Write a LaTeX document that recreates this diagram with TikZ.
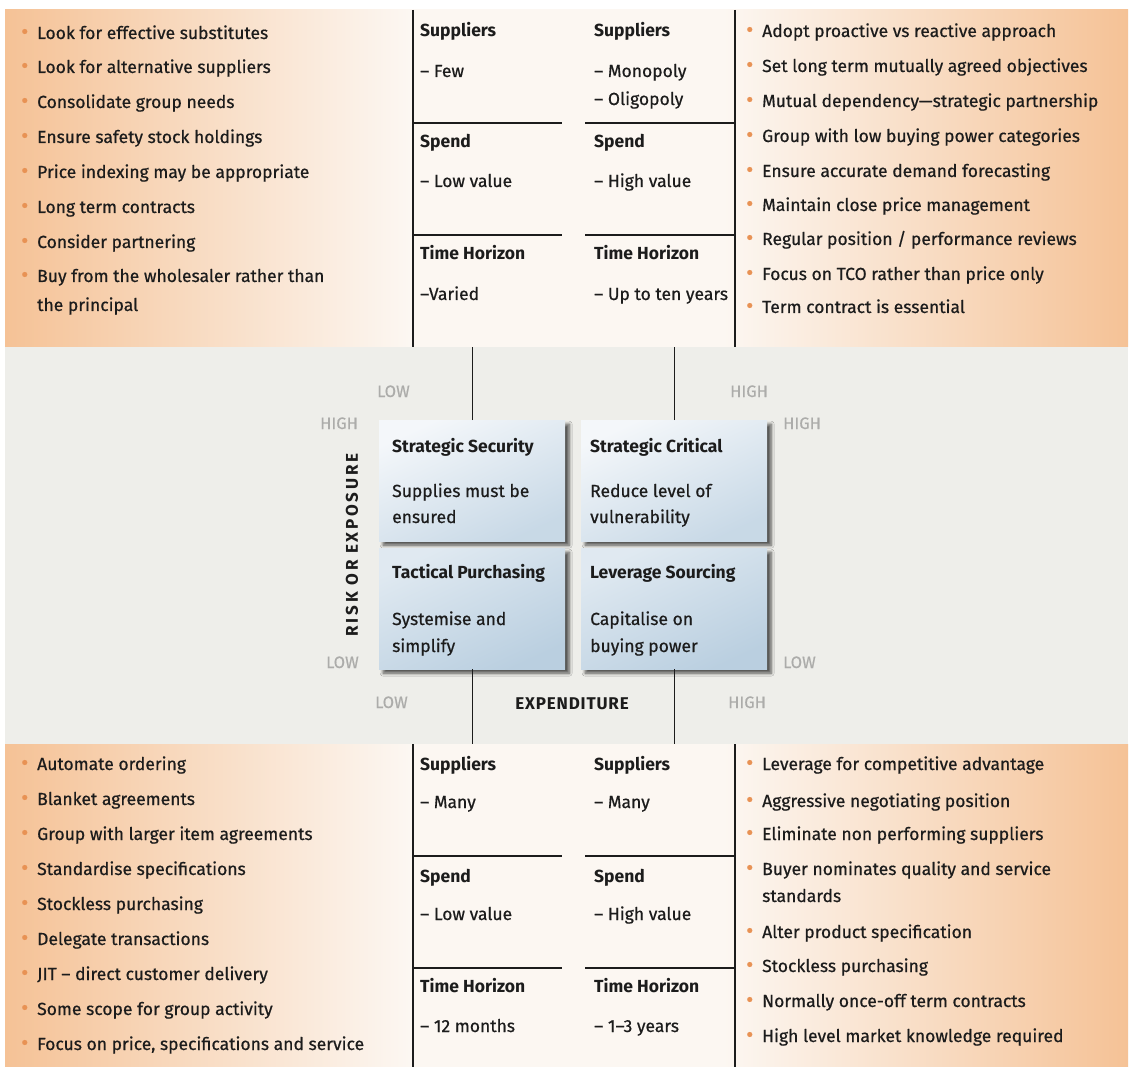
\documentclass[tikz,border=0pt]{standalone}
\usepackage{fontspec}
\setmainfont{Fira Sans}[UprightFeatures={FakeBold=0.6}]
\usetikzlibrary{shadows.blur}

\definecolor{peach}{RGB}{245,194,150}
\definecolor{cream}{RGB}{252,247,242}
\definecolor{bandgrey}{RGB}{238,238,234}
\definecolor{dotorange}{RGB}{232,146,84}
\definecolor{axisgrey}{RGB}{172,172,170}
\definecolor{inkdark}{RGB}{28,28,28}
\definecolor{quadlight}{RGB}{244,247,250}
\definecolor{quadblue}{RGB}{186,207,224}

\pgfdeclarehorizontalshading{bandshade}{100bp}{color(0bp)=(peach); color(25bp)=(peach); color(43bp)=(cream); color(57bp)=(cream); color(75bp)=(peach); color(100bp)=(peach)}

\newcommand{\bul}{\makebox[16pt][l]{\textcolor{dotorange}{\fontsize{22}{22}\selectfont•}}}

\begin{document}
\begin{tikzpicture}[x=1pt,y=-1pt,
	every node/.style={inner sep=0pt,text=inkdark},
	item/.style={anchor=base west,font=\fontsize{17.5}{21}\selectfont},
	head/.style={anchor=base west,font=\fontsize{17.5}{21}\selectfont\bfseries},
	axislabel/.style={anchor=base west,text=axisgrey,font=\fontsize{16.5}{19}\selectfont},
	axistitle/.style={font=\fontsize{17}{20}\selectfont\bfseries},
	quad/.style={anchor=north west,minimum width=186pt,minimum height=121pt,
		blur shadow={shadow xshift=4pt,shadow yshift=-4pt,shadow blur radius=3pt,shadow blur steps=6,shadow opacity=65}},
	quadtop/.style={quad,top color=quadlight,bottom color=quadblue!80,shading angle=25},
	quadbot/.style={quad,top color=quadblue!45,bottom color=quadblue,shading angle=25},
	rule/.style={line width=1.2pt,draw=inkdark}]
	
	\useasboundingbox (0,0) rectangle (1130,1067);
	\fill[white] (0,0) rectangle (1130,1067);
	
	% bands
	\shade[shading=bandshade] (5,10) rectangle (1128,347);
	\fill[bandgrey] (5,347) rectangle (1128,744);
	\shade[shading=bandshade] (5,744) rectangle (1128,1067);
	
	% table rules
	\draw[rule] (413,10) -- (413,347);
	\draw[rule] (735,10) -- (735,347);
	\draw[rule] (413,123) -- (562,123);
	\draw[rule] (413,235) -- (562,235);
	\draw[rule] (585,123) -- (735,123);
	\draw[rule] (585,235) -- (735,235);
	\draw[rule] (413,744) -- (413,1067);
	\draw[rule] (735,744) -- (735,1067);
	\draw[rule] (413,856) -- (562,856);
	\draw[rule] (413,968) -- (562,968);
	\draw[rule] (585,856) -- (735,856);
	\draw[rule] (585,968) -- (735,968);
	
	% top left
	\node[item] (ta1) at (21,39)  {\bul Look for effective substitutes};
	\node[item] (ta2) at (21,73)  {\bul Look for alternative suppliers};
	\node[item] (ta3) at (21,108) {\bul Consolidate group needs};
	\node[item] (ta4) at (21,143) {\bul Ensure safety stock holdings};
	\node[item] (ta5) at (21,178) {\bul Price indexing may be appropriate};
	\node[item] (ta6) at (21,213) {\bul Long term contracts};
	\node[item] (ta7) at (21,248) {\bul Consider partnering};
	\node[item] (ta8) at (21,282) {\bul Buy from the wholesaler rather than};
	\node[item] (ta9) at (37,311) {the principal};
	
	\node[head] (sa1) at (420,37)  {Suppliers};
	\node[item] (sa2) at (420,77)  {– Few};
	\node[head] (sa3) at (420,148) {Spend};
	\node[item] (sa4) at (420,187) {– Low value};
	\node[head] (sa5) at (420,260) {Time Horizon};
	\node[item] (sa6) at (420,300) {–Varied};
	
	\node[head] (sb1) at (594,37)  {Suppliers};
	\node[item] (sb2) at (594,77)  {– Monopoly};
	\node[item] (sb3) at (594,105) {– Oligopoly};
	\node[head] (sb4) at (594,148) {Spend};
	\node[item] (sb5) at (594,187) {– High value};
	\node[head] (sb6) at (594,260) {Time Horizon};
	\node[item] (sb7) at (594,300) {– Up to ten years};
	
	% top right
	\node[item] (tb1) at (746,37)  {\bul Adopt proactive vs reactive approach};
	\node[item] (tb2) at (746,72)  {\bul Set long term mutually agreed objectives};
	\node[item] (tb3) at (746,107) {\bul Mutual dependency—strategic partnership};
	\node[item] (tb4) at (746,142) {\bul Group with low buying power categories};
	\node[item] (tb5) at (746,177) {\bul Ensure accurate demand forecasting};
	\node[item] (tb6) at (746,211) {\bul Maintain close price management};
	\node[item] (tb7) at (746,245) {\bul Regular position / performance reviews};
	\node[item] (tb8) at (746,280) {\bul Focus on TCO rather than price only};
	\node[item] (tb9) at (746,313) {\bul Term contract is essential};
	
	% matrix
	\node[quadtop] (secure)   at (379,420) {};
	\node[quadtop] (critical) at (581,420) {};
	\node[quadbot] (tactical) at (379,548) {};
	\node[quadbot] (leverage) at (581,548) {};
	
	\node[head] (q1) at (392,452) {Strategic Security};
	\node[item] (q1a) at (392,497) {Supplies must be};
	\node[item] (q1b) at (392,523) {ensured};
	\node[head] (q2) at (590,452) {Strategic Critical};
	\node[item] (q2a) at (590,497) {Reduce level of};
	\node[item] (q2b) at (590,523) {vulnerability};
	\node[head] (q3) at (392,578) {Tactical Purchasing};
	\node[item] (q3a) at (392,625) {Systemise and};
	\node[item] (q3b) at (392,652) {simplify};
	\node[head] (q4) at (590,578) {Leverage Sourcing};
	\node[item] (q4a) at (590,625) {Capitalise on};
	\node[item] (q4b) at (590,652) {buying power};
	
	\coordinate (topedge) at (0,347);
	\coordinate (botedge) at (0,744);
	\draw[rule] (secure.north) -- (secure.north |- topedge);
	\draw[rule] (critical.north) -- (critical.north |- topedge);
	\draw[rule] (tactical.south) -- (tactical.south |- botedge);
	\draw[rule] (leverage.south) -- (leverage.south |- botedge);
	
	\node[axislabel] (lo1) at (377,397) {LOW};
	\node[axislabel] (hi1) at (730,397) {HIGH};
	\node[axislabel] (hi2) at (320,429) {HIGH};
	\node[axislabel] (hi3) at (783,429) {HIGH};
	\node[axislabel] (lo2) at (326,668) {LOW};
	\node[axislabel] (lo3) at (783,668) {LOW};
	\node[axislabel] (lo4) at (375,708) {LOW};
	\node[axislabel] (hi4) at (728,708) {HIGH};
	\node[axistitle,anchor=base] (expend) at (572,709) {\addfontfeature{LetterSpace=5}EXPENDITURE};
	\node[axistitle,rotate=90] (risk) at (352,545) {\addfontfeature{LetterSpace=16}RISK OR EXPOSURE};
	
	% bottom left
	\node[item] (ba1) at (21,770)  {\bul Automate ordering};
	\node[item] (ba2) at (21,805)  {\bul Blanket agreements};
	\node[item] (ba3) at (21,840)  {\bul Group with larger item agreements};
	\node[item] (ba4) at (21,875)  {\bul Standardise specifications};
	\node[item] (ba5) at (21,910)  {\bul Stockless purchasing};
	\node[item] (ba6) at (21,945)  {\bul Delegate transactions};
	\node[item] (ba7) at (21,980)  {\bul JIT – direct customer delivery};
	\node[item] (ba8) at (21,1015) {\bul Some scope for group activity};
	\node[item] (ba9) at (21,1050) {\bul Focus on price, specifications and service};
	
	\node[head] (sc1) at (420,770)  {Suppliers};
	\node[item] (sc2) at (420,808)  {– Many};
	\node[head] (sc3) at (420,882)  {Spend};
	\node[item] (sc4) at (420,920)  {– Low value};
	\node[head] (sc5) at (420,992)  {Time Horizon};
	\node[item] (sc6) at (420,1032) {– 12 months};
	
	\node[head] (sd1) at (594,770)  {Suppliers};
	\node[item] (sd2) at (594,808)  {– Many};
	\node[head] (sd3) at (594,882)  {Spend};
	\node[item] (sd4) at (594,920)  {– High value};
	\node[head] (sd5) at (594,992)  {Time Horizon};
	\node[item] (sd6) at (594,1032) {– 1–3 years};
	
	% bottom right
	\node[item] (bb1) at (746,770)  {\bul Leverage for competitive advantage};
	\node[item] (bb2) at (746,807)  {\bul Aggressive negotiating position};
	\node[item] (bb3) at (746,840)  {\bul Eliminate non performing suppliers};
	\node[item] (bb4) at (746,875)  {\bul Buyer nominates quality and service};
	\node[item] (bb5) at (762,902)  {standards};
	\node[item] (bb6) at (746,938)  {\bul Alter product specification};
	\node[item] (bb7) at (746,972)  {\bul Stockless purchasing};
	\node[item] (bb8) at (746,1007) {\bul Normally once-off term contracts};
	\node[item] (bb9) at (746,1042) {\bul High level market knowledge required};
	
\end{tikzpicture}
\end{document}
